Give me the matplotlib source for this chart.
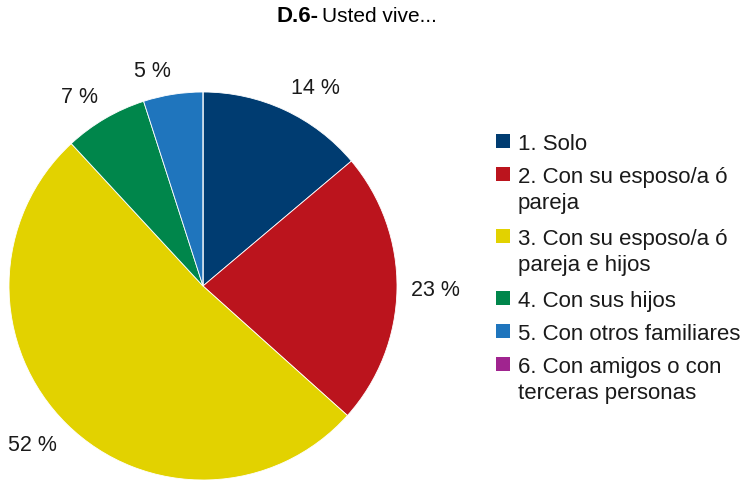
import numpy as np
import matplotlib
matplotlib.use("Agg")
import matplotlib.pyplot as plt
from matplotlib.patches import Rectangle

# living arrangement shares (percent), clockwise from 12 o'clock
categories = [
    "1. Solo",
    "2. Con su esposo/a ó\npareja",
    "3. Con su esposo/a ó\npareja e hijos",
    "4. Con sus hijos",
    "5. Con otros familiares",
    "6. Con amigos o con\nterceras personas",
]
shares = [14, 23, 52, 7, 5, 0]
colors = ["#003c71", "#bb141d", "#e2d200", "#00864b", "#1f75bd", "#a0248f"]

W, H = 752, 481
fig = plt.figure(figsize=(W / 100, H / 100), dpi=100)
plt.rcParams["font.family"] = ["Liberation Sans", "DejaVu Sans"]

cx, cy, r = 203, 287, 194
ax = fig.add_axes([(cx - r) / W, (H - cy - r) / H, 2 * r / W, 2 * r / H])
wedges, _ = ax.pie(
    shares, colors=colors, startangle=90, counterclock=False,
    wedgeprops=dict(edgecolor="white", linewidth=0.6),
)
ax.set_xlim(-1, 1)
ax.set_ylim(-1, 1)
ax.set_aspect("equal")
ax.axis("off")

# value labels anchored just outside the rim, aligned away from the pie
total = sum(shares)
start = 90.0
for val in shares:
    span = 360.0 * val / total
    mid = np.deg2rad(start - span / 2)
    start -= span
    if val == 0:
        continue
    c, s = np.cos(mid), np.sin(mid)
    ha = "left" if c > 0 else "right"
    va = "bottom" if s > 0.3 else ("top" if s < -0.3 else "center")
    ax.text(1.07 * c, 1.07 * s, f"{val} %", ha=ha, va=va,
            fontsize=15.5, color="#1a1a1a", clip_on=False)

# title: bold code followed by the question
fig.text(319 / W, 1 - 17 / H, "D.6-", ha="right", va="center",
         fontsize=16, fontweight="bold")
fig.text(322 / W, 1 - 17 / H, "Usted vive...", ha="left", va="center", fontsize=15)

# legend drawn by hand so the swatch sits on the first line of wrapped labels
y = 142
for label, col in zip(categories, colors):
    fig.patches.append(Rectangle((496 / W, 1 - (y + 7) / H), 14 / W, 14 / H,
                                 transform=fig.transFigure, facecolor=col,
                                 edgecolor="none"))
    fig.text(518 / W, 1 - (y - 8) / H, label, ha="left", va="top", fontsize=16,
             linespacing=1.32, color="#1a1a1a")
    y += 33 + 29 * label.count("\n")

fig.savefig("out.png", dpi=100)
